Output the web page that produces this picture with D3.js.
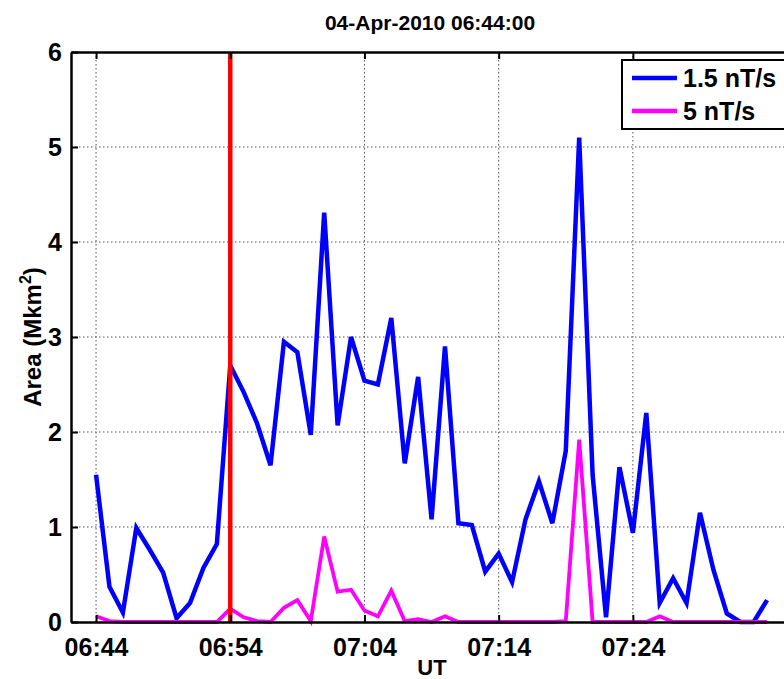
<!DOCTYPE html>
<html>
<head>
<meta charset="utf-8">
<script src="https://cdn.jsdelivr.net/npm/d3@7/dist/d3.min.js"></script>
<style>
  html, body { margin: 0; padding: 0; background: #fff; overflow: hidden; }
  svg { display: block; font-family: "Liberation Sans", Arial, sans-serif; font-weight: bold; }
</style>
</head>
<body>
<svg id="chart" width="784" height="679"></svg>
<script>
// One sample per minute starting at 06:44 UT
const startTime = "2010-04-04T06:44:00Z";
const minuteOffsets = d3.range(0, 51);

// Area above threshold (Mkm^2)
const area15 = [1.55, 0.37, 0.10, 0.99, 0.76, 0.52, 0.04, 0.20, 0.57, 0.82,
                2.70, 2.42, 2.09, 1.65, 2.95, 2.84, 1.97, 4.31, 2.07, 3.00,
                2.54, 2.50, 3.20, 1.67, 2.58, 1.08, 2.90, 1.04, 1.02, 0.53,
                0.72, 0.42, 1.08, 1.48, 1.04, 1.80, 5.10, 1.55, 0.05, 1.63,
                0.94, 2.20, 0.20, 0.46, 0.20, 1.15, 0.55, 0.09, 0.00, 0.00,
                0.23];
const area5 = [0.06, 0.01, 0.00, 0.00, 0.00, 0.00, 0.00, 0.00, 0.00, 0.00,
               0.14, 0.05, 0.01, 0.00, 0.15, 0.23, 0.01, 0.90, 0.32, 0.34,
               0.12, 0.06, 0.33, 0.01, 0.03, 0.00, 0.06, 0.00, 0.00, 0.00,
               0.00, 0.00, 0.00, 0.00, 0.00, 0.01, 1.92, 0.00, 0.00, 0.00,
               0.00, 0.00, 0.06, 0.00, 0.00, 0.00, 0.00, 0.00, 0.00, 0.00,
               0.00];

const seriesNames = ["1.5 nT/s", "5 nT/s"];
const seriesColors = ["#0000ff", "#ff00ff"];
const markerTime = "2010-04-04T06:54:00Z";
const xTickTimes = ["2010-04-04T06:44:00Z", "2010-04-04T06:54:00Z", "2010-04-04T07:04:00Z",
                    "2010-04-04T07:14:00Z", "2010-04-04T07:24:00Z"];
const yTicks = [0, 1, 2, 3, 4, 5, 6];
const xDomain = ["2010-04-04T06:42:08Z", "2010-04-04T07:35:38Z"];
const titleText = "04-Apr-2010 06:44:00";

const svg = d3.select("#chart");
const plotLeft = 71, plotRight = 789, plotTop = 52, plotBottom = 622;

const t0 = new Date(startTime);
const times = minuteOffsets.map(m => new Date(t0.getTime() + m * 60000));

const x = d3.scaleUtc().domain(xDomain.map(d => new Date(d))).range([plotLeft, plotRight]);
const y = d3.scaleLinear().domain([0, 6]).range([plotBottom, plotTop]);

// dotted grid
const grid = svg.append("g").attr("stroke", "#555").attr("stroke-width", 1)
  .attr("stroke-dasharray", "1.5,2.5");
yTicks.filter(v => v > 0 && v < 6).forEach(v => {
  grid.append("line").attr("x1", plotLeft).attr("x2", plotRight)
    .attr("y1", y(v)).attr("y2", y(v));
});
xTickTimes.forEach(s => {
  const xv = x(new Date(s));
  grid.append("line").attr("x1", xv).attr("x2", xv).attr("y1", plotTop).attr("y2", plotBottom);
});

// data lines
const line = d3.line().x((d, i) => x(times[i])).y(d => y(d));
[area15, area5].forEach((vals, k) => {
  svg.append("path").datum(vals)
    .attr("fill", "none")
    .attr("stroke", seriesColors[k])
    .attr("stroke-width", k === 0 ? 4.5 : 3.8)
    .attr("stroke-linejoin", "miter")
    .attr("d", line);
});

// event marker
const mx = x(new Date(markerTime));
svg.append("line").attr("x1", mx).attr("x2", mx).attr("y1", plotTop).attr("y2", plotBottom)
  .attr("stroke", "#ff0000").attr("stroke-width", 4.5);

// axes
const xAxis = d3.axisBottom(x).tickValues(xTickTimes.map(s => new Date(s)))
  .tickFormat(d3.utcFormat("%H:%M")).tickSizeInner(-7).tickSizeOuter(0).tickPadding(16);
const gx = svg.append("g").attr("transform", `translate(0,${plotBottom})`).call(xAxis);
gx.select(".domain").attr("stroke", "#000").attr("stroke-width", 2.5);
gx.selectAll(".tick line").attr("stroke", "#000").attr("stroke-width", 2);
gx.selectAll(".tick text").attr("font-size", 25).attr("font-weight", "bold").attr("fill", "#000")
  .attr("font-family", "Liberation Sans, Arial, sans-serif");

const xTop = d3.axisTop(x).tickValues(xTickTimes.map(s => new Date(s)))
  .tickFormat("").tickSizeInner(-7).tickSizeOuter(0);
const gxt = svg.append("g").attr("transform", `translate(0,${plotTop})`).call(xTop);
gxt.select(".domain").attr("stroke", "#000").attr("stroke-width", 2.5);
gxt.selectAll(".tick line").attr("stroke", "#000").attr("stroke-width", 2);

const yAxis = d3.axisLeft(y).tickValues(yTicks).tickFormat(d3.format("d"))
  .tickSizeInner(-7).tickSizeOuter(0).tickPadding(9);
const gy = svg.append("g").attr("transform", `translate(${plotLeft},0)`).call(yAxis);
gy.select(".domain").attr("stroke", "#000").attr("stroke-width", 2.5);
gy.selectAll(".tick line").attr("stroke", "#000").attr("stroke-width", 2);
gy.selectAll(".tick text").attr("font-size", 25).attr("font-weight", "bold").attr("fill", "#000")
  .attr("font-family", "Liberation Sans, Arial, sans-serif");

// title and axis labels
svg.append("text").attr("x", (plotLeft + plotRight) / 2).attr("y", 30)
  .attr("text-anchor", "middle").attr("font-size", 21).text(titleText);

svg.append("text").attr("x", 432).attr("y", 675)
  .attr("text-anchor", "middle").attr("font-size", 22).text("UT");

const yl = svg.append("text")
  .attr("transform", `translate(41,${(plotTop + plotBottom) / 2}) rotate(-90)`)
  .attr("text-anchor", "middle").attr("font-size", 24);
yl.append("tspan").text("Area (Mkm");
yl.append("tspan").attr("font-size", 16).attr("dy", -10).text("2");
yl.append("tspan").attr("dy", 10).text(")");

// legend
const lg = svg.append("g");
lg.append("rect").attr("x", 622).attr("y", 60).attr("width", 200).attr("height", 69)
  .attr("fill", "#fff").attr("stroke", "#000").attr("stroke-width", 2);
seriesNames.forEach((name, k) => {
  const ly = 78 + k * 33;
  lg.append("line").attr("x1", 632).attr("x2", 677).attr("y1", ly).attr("y2", ly)
    .attr("stroke", seriesColors[k]).attr("stroke-width", 4.5);
  lg.append("text").attr("x", 683).attr("y", ly + 9).attr("font-size", 25).text(name);
});
</script>
</body>
</html>
